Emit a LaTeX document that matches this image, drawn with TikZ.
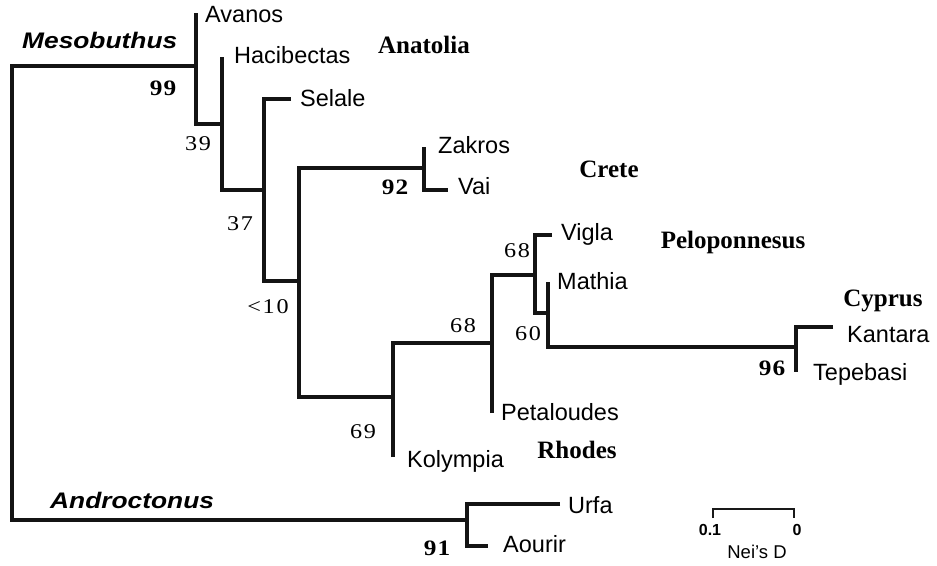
\documentclass[tikz,border=0pt]{standalone}
\usepackage{fontspec}
\usepackage{graphicx}
\setmainfont{Liberation Serif}
\setsansfont{Liberation Sans}
\newcommand{\lnum}[1]{\scalebox{1.15}[1]{\fontsize{21}{21}\selectfont #1}}
\newcommand{\bnum}[1]{\scalebox{1.15}[1]{\fontsize{22}{22}\selectfont\bfseries #1}}
\begin{document}
\begin{tikzpicture}[x=1pt,y=-1pt,
  branch/.style={line width=3.4pt, line join=miter, line cap=butt, draw=black!92},
  leaf/.style={anchor=base west, inner sep=0pt, font=\sffamily\fontsize{23.5}{24}\selectfont},
  region/.style={anchor=base, inner sep=0pt, font=\rmfamily\bfseries\fontsize{25}{26}\selectfont},
  genus/.style={anchor=base west, inner sep=0pt, font=\sffamily\bfseries\itshape\fontsize{22.5}{24}\selectfont},
  supp/.style={anchor=base, inner sep=0pt},
  sbar/.style={line width=1.8pt, draw=black!90},
  sblab/.style={anchor=base, inner sep=0pt, font=\sffamily\bfseries\fontsize{16}{17}\selectfont}]
\useasboundingbox (0,0) rectangle (937,565);
% tree coordinates
\coordinate (R1) at (12,66);   \coordinate (R2) at (12,520);
\coordinate (A0) at (196,66);  \coordinate (Av) at (196,13);  \coordinate (A1) at (196,124);
\coordinate (B0) at (222,124); \coordinate (Hc) at (222,57);  \coordinate (B1) at (222,190);
\coordinate (C0) at (264,190); \coordinate (Sc) at (264,99);  \coordinate (C1) at (264,281);
\coordinate (Se) at (291,99);
\coordinate (D0) at (299,281); \coordinate (Dt) at (299,168); \coordinate (Db) at (299,397);
\coordinate (E0) at (424,168); \coordinate (Zk) at (424,147); \coordinate (Ev) at (424,190);
\coordinate (Va) at (448,190);
\coordinate (F0) at (393,397); \coordinate (Ft) at (393,343); \coordinate (Ko) at (393,457);
\coordinate (G0) at (492,343); \coordinate (Gt) at (492,275); \coordinate (Pe) at (492,413);
\coordinate (H0) at (535,275); \coordinate (Vg0) at (535,235); \coordinate (H1) at (535,313);
\coordinate (Vg) at (552,235);
\coordinate (I0) at (548,313); \coordinate (Ma) at (548,282); \coordinate (I1) at (548,347);
\coordinate (J0) at (796,347); \coordinate (Ka0) at (796,327); \coordinate (Te) at (796,372);
\coordinate (Ka) at (833,327);
\coordinate (K0) at (467,520); \coordinate (Ur0) at (467,504); \coordinate (Ao0) at (467,546);
\coordinate (Ur) at (560,504); \coordinate (Ao) at (488,546);
% branches
\draw[branch] (A0) -- (R1) -- (R2) -- (K0);
\draw[branch] (Av) -- (A1) -- (B0);
\draw[branch] (Hc) -- (B1) -- (C0);
\draw[branch] (Se) -- (Sc) -- (C1) -- (D0);
\draw[branch] (E0) -- (Dt) -- (Db) -- (F0);
\draw[branch] (Zk) -- (Ev) -- (Va);
\draw[branch] (Ko) -- (Ft) -- (G0);
\draw[branch] (Pe) -- (Gt) -- (H0);
\draw[branch] (Vg) -- (Vg0) -- (H1) -- (I0);
\draw[branch] (Ma) -- (I1) -- (J0);
\draw[branch] (Ka) -- (Ka0) -- (Te);
\draw[branch] (Ur) -- (Ur0) -- (Ao0) -- (Ao);
% leaf labels
\node[leaf] (lAv) at (205,22) {Avanos};
\node[leaf] (lHc) at (234,63) {Hacibectas};
\node[leaf] (lSe) at (300,106) {Selale};
\node[leaf] (lZk) at (438,153) {Zakros};
\node[leaf] (lVa) at (458,194) {Vai};
\node[leaf] (lVg) at (561,240) {Vigla};
\node[leaf] (lMa) at (557,289) {Mathia};
\node[leaf] (lKa) at (847,342) {Kantara};
\node[leaf] (lTe) at (813,380) {Tepebasi};
\node[leaf] (lPe) at (501,420) {Petaloudes};
\node[leaf] (lKo) at (407,467) {Kolympia};
\node[leaf] (lUr) at (568,513) {Urfa};
\node[leaf] (lAo) at (503,552) {Aourir};
% region labels
\node[region] (rAn) at (424,53) {Anatolia};
\node[region] (rCr) at (609,177) {Crete};
\node[region] (rPe) at (733,248) {Peloponnesus};
\node[region] (rCy) at (883,306) {Cyprus};
\node[region] (rRh) at (577,458) {Rhodes};
% genus labels
\node[genus] (gM) at (22,48) {\scalebox{1.17}[1]{Mesobuthus}};
\node[genus] (gA) at (50,508) {\scalebox{1.17}[1]{Androctonus}};
% support values
\node[supp] (s99) at (163,95) {\bnum{9\kern1pt9}};
\node[supp] (s39) at (198,150) {\lnum{3\kern1.5pt9}};
\node[supp] (s37) at (240,230) {\lnum{3\kern1.5pt7}};
\node[supp] (s10) at (268,313) {\lnum{<\kern1.5pt1\kern1.5pt0}};
\node[supp] (s92) at (395,194) {\bnum{9\kern1pt2}};
\node[supp] (s68a) at (463,332) {\lnum{6\kern1.5pt8}};
\node[supp] (s68b) at (517,257) {\lnum{6\kern1.5pt8}};
\node[supp] (s60) at (528,340) {\lnum{6\kern1.5pt0}};
\node[supp] (s69) at (363,438) {\lnum{6\kern1.5pt9}};
\node[supp] (s96) at (772,375) {\bnum{9\kern1pt6}};
\node[supp] (s91) at (437,555) {\bnum{9\kern1pt1}};
% scale bar
\coordinate (SB1) at (713,518); \coordinate (SB2) at (713,509);
\coordinate (SB3) at (794,509); \coordinate (SB4) at (794,518);
\draw[sbar] (SB1) -- (SB2) -- (SB3) -- (SB4);
\node[sblab] (sb01) at (710,535) {0.1};
\node[sblab] (sb0) at (797,535) {0};
\node[anchor=base, inner sep=0pt, font=\sffamily\fontsize{18.5}{19}\selectfont] (nei) at (757,558) {Nei's D};
\end{tikzpicture}
\end{document}
